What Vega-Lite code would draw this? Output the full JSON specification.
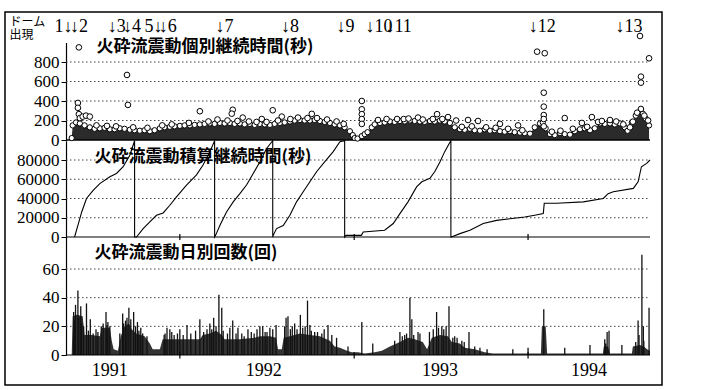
{
"$schema": "https://vega.github.io/schema/vega-lite/v6.json",
"width": 657, "height": 373,
"autosize": {"type": "none"},
"padding": {"left": 5, "top": 12, "right": 48, "bottom": 5},
"background": "white",
"config": {"view": {"stroke": "#000", "strokeWidth": 1.5}, "font": "Liberation Serif"},
"resolve": {"scale": {"y": "independent"}, "axis": {"y": "independent"}},
"datasets": {
"env": [{"date":"1991-05-19","v":20},{"date":"1991-05-21","v":150},{"date":"1991-05-28","v":180},{"date":"1991-06-05","v":170},{"date":"1991-06-15","v":150},{"date":"1991-06-26","v":130},{"date":"1991-07-06","v":115},{"date":"1991-07-17","v":120},{"date":"1991-07-27","v":125},{"date":"1991-08-07","v":110},{"date":"1991-08-17","v":110},{"date":"1991-08-28","v":120},{"date":"1991-09-07","v":115},{"date":"1991-09-18","v":105},{"date":"1991-09-28","v":100},{"date":"1991-10-09","v":95},{"date":"1991-10-19","v":100},{"date":"1991-10-30","v":90},{"date":"1991-11-09","v":100},{"date":"1991-11-20","v":120},{"date":"1991-11-30","v":130},{"date":"1991-12-11","v":135},{"date":"1991-12-21","v":140},{"date":"1992-01-01","v":145},{"date":"1992-01-11","v":150},{"date":"1992-01-22","v":150},{"date":"1992-02-01","v":155},{"date":"1992-02-12","v":160},{"date":"1992-02-22","v":165},{"date":"1992-03-04","v":170},{"date":"1992-03-14","v":165},{"date":"1992-03-25","v":175},{"date":"1992-04-04","v":170},{"date":"1992-04-15","v":175},{"date":"1992-04-25","v":165},{"date":"1992-05-06","v":170},{"date":"1992-05-16","v":160},{"date":"1992-05-27","v":165},{"date":"1992-06-06","v":155},{"date":"1992-06-17","v":165},{"date":"1992-06-27","v":160},{"date":"1992-07-08","v":155},{"date":"1992-07-18","v":165},{"date":"1992-07-29","v":175},{"date":"1992-08-08","v":180},{"date":"1992-08-19","v":190},{"date":"1992-08-29","v":200},{"date":"1992-09-09","v":205},{"date":"1992-09-19","v":200},{"date":"1992-09-30","v":200},{"date":"1992-10-10","v":205},{"date":"1992-10-21","v":195},{"date":"1992-10-31","v":185},{"date":"1992-11-11","v":175},{"date":"1992-11-21","v":160},{"date":"1992-12-02","v":150},{"date":"1992-12-12","v":130},{"date":"1992-12-23","v":90},{"date":"1992-12-29","v":50},{"date":"1993-01-02","v":20},{"date":"1993-01-08","v":15},{"date":"1993-01-17","v":40},{"date":"1993-01-23","v":60},{"date":"1993-01-29","v":80},{"date":"1993-02-07","v":130},{"date":"1993-02-13","v":160},{"date":"1993-02-24","v":175},{"date":"1993-03-06","v":180},{"date":"1993-03-17","v":190},{"date":"1993-03-27","v":185},{"date":"1993-04-07","v":195},{"date":"1993-04-17","v":190},{"date":"1993-04-28","v":200},{"date":"1993-05-08","v":195},{"date":"1993-05-19","v":190},{"date":"1993-05-29","v":185},{"date":"1993-06-09","v":195},{"date":"1993-06-19","v":190},{"date":"1993-06-30","v":200},{"date":"1993-07-10","v":190},{"date":"1993-07-21","v":175},{"date":"1993-07-31","v":130},{"date":"1993-08-11","v":110},{"date":"1993-08-21","v":105},{"date":"1993-09-01","v":115},{"date":"1993-09-11","v":100},{"date":"1993-09-22","v":95},{"date":"1993-10-02","v":110},{"date":"1993-10-13","v":95},{"date":"1993-10-23","v":100},{"date":"1993-11-03","v":90},{"date":"1993-11-13","v":85},{"date":"1993-11-24","v":90},{"date":"1993-12-04","v":80},{"date":"1993-12-15","v":75},{"date":"1993-12-25","v":70},{"date":"1994-01-05","v":65},{"date":"1994-01-15","v":130},{"date":"1994-01-26","v":170},{"date":"1994-02-01","v":180},{"date":"1994-02-07","v":120},{"date":"1994-02-16","v":60},{"date":"1994-02-26","v":50},{"date":"1994-03-09","v":70},{"date":"1994-03-19","v":60},{"date":"1994-03-30","v":55},{"date":"1994-04-09","v":90},{"date":"1994-04-20","v":110},{"date":"1994-04-30","v":120},{"date":"1994-05-11","v":100},{"date":"1994-05-21","v":120},{"date":"1994-06-01","v":170},{"date":"1994-06-11","v":165},{"date":"1994-06-22","v":170},{"date":"1994-07-02","v":160},{"date":"1994-07-13","v":170},{"date":"1994-07-23","v":130},{"date":"1994-07-29","v":95},{"date":"1994-08-07","v":180},{"date":"1994-08-15","v":250},{"date":"1994-08-24","v":290},{"date":"1994-08-30","v":270},{"date":"1994-09-05","v":220},{"date":"1994-09-12","v":150}],
"out": [{"date":"1991-06-01","v":380},{"date":"1991-06-01","v":330},{"date":"1991-06-03","v":265},{"date":"1991-06-05","v":225},{"date":"1991-06-11","v":240},{"date":"1991-06-18","v":250},{"date":"1991-06-26","v":240},{"date":"1991-06-03","v":950},{"date":"1991-09-12","v":667},{"date":"1991-09-14","v":360},{"date":"1992-02-12","v":295},{"date":"1992-04-21","v":310},{"date":"1992-04-19","v":270},{"date":"1992-05-12","v":230},{"date":"1992-06-21","v":215},{"date":"1992-07-14","v":305},{"date":"1992-08-02","v":240},{"date":"1992-10-04","v":268},{"date":"1993-01-17","v":400},{"date":"1993-01-17","v":315},{"date":"1993-01-17","v":265},{"date":"1993-01-17","v":215},{"date":"1993-01-17","v":165},{"date":"1993-04-15","v":215},{"date":"1993-05-15","v":230},{"date":"1993-06-24","v":265},{"date":"1993-07-17","v":235},{"date":"1993-08-03","v":200},{"date":"1993-08-28","v":205},{"date":"1993-09-18","v":195},{"date":"1993-11-03","v":165},{"date":"1993-12-11","v":150},{"date":"1994-01-20","v":906},{"date":"1994-02-05","v":890},{"date":"1994-02-03","v":485},{"date":"1994-02-03","v":342},{"date":"1994-02-03","v":256},{"date":"1994-02-03","v":215},{"date":"1994-02-03","v":140},{"date":"1994-03-19","v":225},{"date":"1994-04-24","v":175},{"date":"1994-05-15","v":235},{"date":"1994-05-28","v":185},{"date":"1994-06-22","v":205},{"date":"1994-08-03","v":130},{"date":"1994-08-09","v":188},{"date":"1994-08-24","v":1067},{"date":"1994-09-12","v":838},{"date":"1994-08-26","v":650},{"date":"1994-08-26","v":588},{"date":"1994-08-26","v":318},{"date":"1994-09-10","v":200},{"date":"1991-07-10","v":150},{"date":"1991-08-01","v":145},{"date":"1991-08-20","v":140},{"date":"1991-09-25","v":130},{"date":"1991-10-25","v":125},{"date":"1991-11-25","v":150},{"date":"1991-12-15","v":160},{"date":"1992-01-20","v":175},{"date":"1992-03-01","v":190},{"date":"1992-03-20","v":210},{"date":"1992-04-10","v":200},{"date":"1992-05-01","v":195},{"date":"1992-05-25","v":190},{"date":"1992-06-10","v":185},{"date":"1992-07-01","v":185},{"date":"1992-07-25","v":200},{"date":"1992-08-20","v":215},{"date":"1992-09-05","v":230},{"date":"1992-09-25","v":225},{"date":"1992-10-15","v":225},{"date":"1992-11-05","v":210},{"date":"1992-11-25","v":190},{"date":"1992-12-10","v":165},{"date":"1993-02-20","v":205},{"date":"1993-03-10","v":215},{"date":"1993-04-01","v":215},{"date":"1993-04-25","v":220},{"date":"1993-05-25","v":210},{"date":"1993-06-15","v":215},{"date":"1993-07-05","v":215},{"date":"1993-08-15","v":135},{"date":"1993-09-05","v":140},{"date":"1993-10-05","v":130},{"date":"1993-10-25","v":125},{"date":"1993-11-20","v":115},{"date":"1993-12-20","v":100},{"date":"1994-02-20","v":85},{"date":"1994-03-10","v":95},{"date":"1994-04-05","v":115},{"date":"1994-05-05","v":135},{"date":"1994-06-05","v":195},{"date":"1994-07-05","v":190},{"date":"1994-07-20","v":160},{"date":"1994-08-18","v":280},{"date":"1994-09-02","v":250}],
"cum": [{"i":1,"date":"1991-05-25","v":0},{"i":2,"date":"1991-06-01","v":12000},{"i":3,"date":"1991-06-09","v":26000},{"i":4,"date":"1991-06-19","v":40000},{"i":5,"date":"1991-07-03","v":48500},{"i":6,"date":"1991-07-17","v":55500},{"i":7,"date":"1991-08-07","v":62500},{"i":8,"date":"1991-08-21","v":66000},{"i":9,"date":"1991-09-04","v":73000},{"i":10,"date":"1991-09-18","v":85000},{"i":11,"date":"1991-09-28","v":100000},{"i":12,"date":"1991-09-28","v":0},{"i":13,"date":"1991-10-02","v":0},{"i":14,"date":"1991-10-16","v":8700},{"i":15,"date":"1991-10-30","v":15600},{"i":16,"date":"1991-11-13","v":22600},{"i":17,"date":"1991-11-27","v":25000},{"i":18,"date":"1991-12-11","v":33000},{"i":19,"date":"1991-12-25","v":41700},{"i":20,"date":"1992-01-15","v":54000},{"i":21,"date":"1992-02-05","v":64500},{"i":22,"date":"1992-02-19","v":75000},{"i":23,"date":"1992-03-04","v":88700},{"i":24,"date":"1992-03-14","v":100000},{"i":25,"date":"1992-03-14","v":0},{"i":26,"date":"1992-03-16","v":1700},{"i":27,"date":"1992-03-25","v":12000},{"i":28,"date":"1992-04-08","v":26000},{"i":29,"date":"1992-04-22","v":36500},{"i":30,"date":"1992-05-06","v":45000},{"i":31,"date":"1992-05-20","v":54000},{"i":32,"date":"1992-06-03","v":66000},{"i":33,"date":"1992-06-17","v":78000},{"i":34,"date":"1992-07-01","v":92000},{"i":35,"date":"1992-07-14","v":100000},{"i":36,"date":"1992-07-14","v":0},{"i":37,"date":"1992-07-15","v":1700},{"i":38,"date":"1992-07-22","v":8700},{"i":39,"date":"1992-08-05","v":12000},{"i":40,"date":"1992-08-19","v":22600},{"i":41,"date":"1992-09-02","v":36500},{"i":42,"date":"1992-09-16","v":47000},{"i":43,"date":"1992-09-30","v":57400},{"i":44,"date":"1992-10-14","v":67800},{"i":45,"date":"1992-10-31","v":78000},{"i":46,"date":"1992-11-18","v":88700},{"i":47,"date":"1992-12-02","v":99000},{"i":48,"date":"1992-12-12","v":100000},{"i":49,"date":"1992-12-12","v":0},{"i":50,"date":"1992-12-15","v":1700},{"i":51,"date":"1993-01-16","v":1700},{"i":52,"date":"1993-01-20","v":5200},{"i":53,"date":"1993-03-06","v":7000},{"i":54,"date":"1993-03-24","v":14000},{"i":55,"date":"1993-04-07","v":24300},{"i":56,"date":"1993-04-24","v":36500},{"i":57,"date":"1993-05-12","v":52000},{"i":58,"date":"1993-05-23","v":57400},{"i":59,"date":"1993-06-09","v":61000},{"i":60,"date":"1993-06-19","v":67800},{"i":61,"date":"1993-06-30","v":78000},{"i":62,"date":"1993-07-10","v":88700},{"i":63,"date":"1993-07-21","v":98500},{"i":64,"date":"1993-07-23","v":100000},{"i":65,"date":"1993-07-23","v":0},{"i":66,"date":"1993-07-24","v":0},{"i":67,"date":"1993-08-11","v":3500},{"i":68,"date":"1993-09-01","v":7000},{"i":69,"date":"1993-09-29","v":14000},{"i":70,"date":"1993-10-27","v":17300},{"i":71,"date":"1993-11-24","v":19000},{"i":72,"date":"1993-12-25","v":20700},{"i":73,"date":"1994-01-15","v":22600},{"i":74,"date":"1994-02-02","v":24300},{"i":75,"date":"1994-02-04","v":35000},{"i":76,"date":"1994-03-02","v":35000},{"i":77,"date":"1994-04-27","v":36500},{"i":78,"date":"1994-06-08","v":40000},{"i":79,"date":"1994-06-18","v":45000},{"i":80,"date":"1994-06-29","v":47000},{"i":81,"date":"1994-08-10","v":50500},{"i":82,"date":"1994-08-20","v":57400},{"i":83,"date":"1994-08-27","v":73000},{"i":84,"date":"1994-09-07","v":76500},{"i":85,"date":"1994-09-14","v":80000}],
"base": [{"date":"1991-05-19","v":0},{"date":"1991-05-21","v":27},{"date":"1991-05-30","v":28},{"date":"1991-06-11","v":27},{"date":"1991-06-15","v":14},{"date":"1991-06-30","v":14},{"date":"1991-07-17","v":13},{"date":"1991-07-21","v":19},{"date":"1991-08-07","v":19},{"date":"1991-08-11","v":10},{"date":"1991-08-15","v":4},{"date":"1991-08-24","v":3},{"date":"1991-08-30","v":13},{"date":"1991-09-07","v":20},{"date":"1991-09-16","v":22},{"date":"1991-09-22","v":18},{"date":"1991-10-01","v":15},{"date":"1991-10-19","v":13},{"date":"1991-10-30","v":8},{"date":"1991-11-05","v":4},{"date":"1991-11-20","v":4},{"date":"1991-11-26","v":11},{"date":"1992-01-01","v":11},{"date":"1992-01-22","v":11},{"date":"1992-02-12","v":11},{"date":"1992-02-18","v":14},{"date":"1992-03-04","v":15},{"date":"1992-03-17","v":17},{"date":"1992-03-29","v":14},{"date":"1992-04-04","v":11},{"date":"1992-05-06","v":11},{"date":"1992-06-06","v":12},{"date":"1992-06-17","v":13},{"date":"1992-07-08","v":13},{"date":"1992-07-21","v":12},{"date":"1992-07-25","v":4},{"date":"1992-08-02","v":4},{"date":"1992-08-06","v":12},{"date":"1992-08-19","v":13},{"date":"1992-09-09","v":15},{"date":"1992-09-30","v":14},{"date":"1992-10-21","v":13},{"date":"1992-11-11","v":10},{"date":"1992-11-21","v":6},{"date":"1992-12-02","v":5},{"date":"1992-12-17","v":3},{"date":"1992-12-27","v":2},{"date":"1993-01-09","v":2},{"date":"1993-01-23","v":1},{"date":"1993-02-13","v":2},{"date":"1993-02-28","v":3},{"date":"1993-03-17","v":6},{"date":"1993-04-07","v":9},{"date":"1993-04-24","v":12},{"date":"1993-05-08","v":11},{"date":"1993-05-25","v":9},{"date":"1993-06-03","v":4},{"date":"1993-06-13","v":12},{"date":"1993-06-30","v":14},{"date":"1993-07-17","v":13},{"date":"1993-07-25","v":9},{"date":"1993-08-11","v":8},{"date":"1993-08-21","v":5},{"date":"1993-09-11","v":4},{"date":"1993-10-02","v":2},{"date":"1993-10-19","v":1},{"date":"1994-01-28","v":1},{"date":"1994-01-30","v":20},{"date":"1994-02-07","v":20},{"date":"1994-02-10","v":1},{"date":"1994-06-07","v":1},{"date":"1994-06-09","v":6},{"date":"1994-06-18","v":6},{"date":"1994-06-22","v":1},{"date":"1994-08-07","v":1},{"date":"1994-08-09","v":6},{"date":"1994-08-24","v":7},{"date":"1994-09-01","v":6},{"date":"1994-09-08","v":4},{"date":"1994-09-14","v":3}],
"spk": [{"date":"1991-05-27","v":35},{"date":"1991-06-01","v":45},{"date":"1991-06-07","v":34},{"date":"1991-06-19","v":36},{"date":"1991-06-27","v":25},{"date":"1991-07-09","v":18},{"date":"1991-07-30","v":30},{"date":"1991-08-03","v":23},{"date":"1991-08-07","v":20},{"date":"1991-09-03","v":29},{"date":"1991-09-12","v":26},{"date":"1991-09-16","v":33},{"date":"1991-09-26","v":30},{"date":"1991-10-04","v":23},{"date":"1991-10-11","v":19},{"date":"1991-12-05","v":19},{"date":"1991-12-11","v":18},{"date":"1992-01-01","v":18},{"date":"1992-01-16","v":21},{"date":"1992-02-12","v":25},{"date":"1992-03-04","v":22},{"date":"1992-03-12","v":26},{"date":"1992-03-23","v":42},{"date":"1992-03-29","v":33},{"date":"1992-04-15","v":19},{"date":"1992-04-21","v":24},{"date":"1992-05-02","v":19},{"date":"1992-05-23","v":18},{"date":"1992-06-11","v":18},{"date":"1992-06-17","v":20},{"date":"1992-06-23","v":20},{"date":"1992-07-08","v":19},{"date":"1992-07-21","v":21},{"date":"1992-08-11","v":26},{"date":"1992-08-15","v":27},{"date":"1992-08-29","v":22},{"date":"1992-09-10","v":28},{"date":"1992-09-25","v":38},{"date":"1992-09-30","v":21},{"date":"1992-10-10","v":16},{"date":"1992-11-07","v":21},{"date":"1992-12-19","v":6},{"date":"1993-01-17","v":23},{"date":"1993-02-09","v":8},{"date":"1993-03-27","v":10},{"date":"1993-04-07","v":16},{"date":"1993-04-17","v":14},{"date":"1993-04-28","v":40},{"date":"1993-05-02","v":25},{"date":"1993-05-15","v":16},{"date":"1993-06-23","v":30},{"date":"1993-07-04","v":20},{"date":"1993-07-19","v":34},{"date":"1993-07-31","v":13},{"date":"1993-08-05","v":12},{"date":"1993-08-30","v":16},{"date":"1993-09-11","v":6},{"date":"1993-09-22","v":5},{"date":"1993-10-07","v":4},{"date":"1993-11-30","v":4},{"date":"1994-01-01","v":5},{"date":"1994-02-03","v":32},{"date":"1994-03-19","v":5},{"date":"1994-05-11","v":7},{"date":"1994-06-11","v":11},{"date":"1994-06-16","v":16},{"date":"1994-06-20","v":17},{"date":"1994-07-17","v":7},{"date":"1994-08-20","v":24},{"date":"1994-08-28","v":70},{"date":"1994-09-01","v":10},{"date":"1994-09-12","v":33},{"date":"1991-05-23","v":30},{"date":"1991-05-25","v":24},{"date":"1991-06-03","v":26},{"date":"1991-06-09","v":22},{"date":"1991-06-13","v":20},{"date":"1991-06-23","v":17},{"date":"1991-07-03","v":15},{"date":"1991-07-13","v":16},{"date":"1991-07-20","v":20},{"date":"1991-07-24","v":22},{"date":"1991-08-01","v":21},{"date":"1991-08-28","v":15},{"date":"1991-09-05","v":22},{"date":"1991-09-09","v":24},{"date":"1991-09-20","v":25},{"date":"1991-09-30","v":20},{"date":"1991-10-07","v":17},{"date":"1991-10-15","v":15},{"date":"1991-10-24","v":13},{"date":"1991-11-29","v":14},{"date":"1991-12-01","v":15},{"date":"1991-12-15","v":16},{"date":"1991-12-20","v":14},{"date":"1991-12-27","v":15},{"date":"1992-01-08","v":14},{"date":"1992-01-24","v":15},{"date":"1992-02-03","v":17},{"date":"1992-02-20","v":16},{"date":"1992-02-27","v":18},{"date":"1992-03-08","v":18},{"date":"1992-03-17","v":20},{"date":"1992-04-01","v":17},{"date":"1992-04-10","v":15},{"date":"1992-04-28","v":15},{"date":"1992-05-10","v":15},{"date":"1992-05-15","v":13},{"date":"1992-05-30","v":16},{"date":"1992-06-05","v":15},{"date":"1992-06-28","v":16},{"date":"1992-07-02","v":16},{"date":"1992-07-14","v":18},{"date":"1992-08-08","v":20},{"date":"1992-08-20","v":18},{"date":"1992-08-24","v":20},{"date":"1992-09-03","v":18},{"date":"1992-09-15","v":19},{"date":"1992-09-20","v":20},{"date":"1992-10-03","v":17},{"date":"1992-10-16","v":16},{"date":"1992-10-25","v":15},{"date":"1992-10-30","v":18},{"date":"1992-11-15","v":14},{"date":"1992-11-25","v":12},{"date":"1993-04-12","v":13},{"date":"1993-04-21","v":15},{"date":"1993-05-06","v":14},{"date":"1993-05-19","v":15},{"date":"1993-06-08","v":16},{"date":"1993-06-16","v":18},{"date":"1993-06-27","v":19},{"date":"1993-07-08","v":18},{"date":"1993-07-13","v":20},{"date":"1993-07-27","v":12},{"date":"1993-08-15","v":10},{"date":"1993-08-20","v":9},{"date":"1994-06-13","v":8},{"date":"1994-08-15","v":9},{"date":"1994-08-22","v":14},{"date":"1994-08-31","v":20}],
"dome": [{"n":"1","date":"1991-05-12"},{"n":"2","date":"1991-05-24"},{"n":"3","date":"1991-08-11"},{"n":"4","date":"1991-09-12"},{"n":"5","date":"1991-11-17"},{"n":"6","date":"1991-11-26"},{"n":"7","date":"1992-03-24"},{"n":"8","date":"1992-08-09"},{"n":"9","date":"1992-12-03"},{"n":"10","date":"1993-02-02"},{"n":"11","date":"1993-03-16"},{"n":"12","date":"1994-01-11"},{"n":"13","date":"1994-07-12"}],
"years": [{"date":"1992-01-01"},{"date":"1993-01-01"},{"date":"1994-01-01"}],
"ylab": [{"label":"1991","date":"1991-08-07"},{"label":"1992","date":"1992-06-25"},{"label":"1993","date":"1993-06-30"},{"label":"1994","date":"1994-05-09"}]
},
"layer": [
{"data":{"values":[{"g":200},{"g":400},{"g":600},{"g":800}]},
 "mark":{"type":"rule","strokeDash":[1.5,2.5],"color":"#444","strokeWidth":1},
 "encoding":{
  "x":{"datum":{"year":1991,"month":5,"date":7,"utc":true},"type":"temporal","scale":{"domain":[{"year":1991,"month":5,"date":7,"utc":true},{"year":1994,"month":9,"date":14,"utc":true}],"range":[61,645]},"axis":null},
  "x2":{"datum":{"year":1994,"month":9,"date":14,"utc":true}},
  "y":{"field":"g","type":"quantitative","scale":{"domain":[0,1000],"range":[128,30.5],"nice":false,"zero":false},
   "axis":{"orient":"left","offset":-61,"values":[0,200,400,600,800],"format":"d","grid":false,"tickSize":5,"tickColor":"#000","domainColor":"#000","domainWidth":1.2,"labelFont":"Liberation Serif","labelFontSize":17,"labelColor":"#000","labelPadding":2,"title":["ドーム","出現"],"titleAngle":0,"titleAlign":"left","titleBaseline":"top","titleX":-57,"titleY":4,"titleFont":"Noto Sans CJK JP","titleFontSize":12,"titleFontWeight":"normal","titleColor":"#000","titleLineHeight":13}}}},
{"data":{"name":"env"},"mark":{"type":"area","color":"#2b2b2b"},
 "encoding":{"x":{"field":"date","type":"temporal","scale":{"domain":[{"year":1991,"month":5,"date":7,"utc":true},{"year":1994,"month":9,"date":14,"utc":true}],"range":[61,645]},"axis":null},
  "y":{"field":"v","type":"quantitative","scale":{"domain":[0,1000],"range":[128,30.5],"nice":false,"zero":false},"axis":null}}},
{"data":{"values":[{}]},"mark":{"type":"rule","color":"#000","strokeWidth":1.5},
 "encoding":{"x":{"datum":{"year":1991,"month":5,"date":7,"utc":true},"type":"temporal","scale":{"domain":[{"year":1991,"month":5,"date":7,"utc":true},{"year":1994,"month":9,"date":14,"utc":true}],"range":[61,645]},"axis":null},
  "x2":{"datum":{"year":1994,"month":9,"date":14,"utc":true}},
  "y":{"datum":0,"type":"quantitative","scale":{"domain":[0,1000],"range":[128,30.5],"nice":false,"zero":false},"axis":null}}},
{"data":{"name":"env"},"mark":{"type":"circle","fill":"#fff","fillOpacity":1,"stroke":"#000","strokeWidth":1,"size":28},
 "encoding":{"x":{"field":"date","type":"temporal","scale":{"domain":[{"year":1991,"month":5,"date":7,"utc":true},{"year":1994,"month":9,"date":14,"utc":true}],"range":[61,645]},"axis":null},
  "y":{"field":"v","type":"quantitative","scale":{"domain":[0,1000],"range":[128,30.5],"nice":false,"zero":false},"axis":null}}},
{"data":{"name":"out"},"mark":{"type":"circle","fill":"#fff","fillOpacity":1,"stroke":"#000","strokeWidth":1,"size":32},
 "encoding":{"x":{"field":"date","type":"temporal","scale":{"domain":[{"year":1991,"month":5,"date":7,"utc":true},{"year":1994,"month":9,"date":14,"utc":true}],"range":[61,645]},"axis":null},
  "y":{"field":"v","type":"quantitative","scale":{"domain":[0,1000],"range":[128,30.5],"nice":false,"zero":false},"axis":null}}},
{"data":{"name":"dome"},"transform":[{"filter":"datum.n != '1' && datum.n != '5'"},{"calculate":"'↓' + datum.n","as":"label"}],
 "mark":{"type":"text","font":"Liberation Serif","fontSize":18,"align":"left","dx":-4,"baseline":"middle","color":"#000"},
 "encoding":{"x":{"field":"date","type":"temporal","scale":{"domain":[{"year":1991,"month":5,"date":7,"utc":true},{"year":1994,"month":9,"date":14,"utc":true}],"range":[61,645]},"axis":null},
  "y":{"datum":1160,"type":"quantitative","scale":{"domain":[0,1000],"range":[128,30.5],"nice":false,"zero":false},"axis":null},
  "text":{"field":"label"}}},
{"data":{"name":"dome"},"transform":[{"filter":"datum.n == '1' || datum.n == '5'"},{"calculate":"datum.n + '↓'","as":"label"}],
 "mark":{"type":"text","font":"Liberation Serif","fontSize":18,"align":"right","dx":4,"baseline":"middle","color":"#000"},
 "encoding":{"x":{"field":"date","type":"temporal","scale":{"domain":[{"year":1991,"month":5,"date":7,"utc":true},{"year":1994,"month":9,"date":14,"utc":true}],"range":[61,645]},"axis":null},
  "y":{"datum":1160,"type":"quantitative","scale":{"domain":[0,1000],"range":[128,30.5],"nice":false,"zero":false},"axis":null},
  "text":{"field":"label"}}},
{"data":{"values":[{}]},"mark":{"type":"text","text":"火砕流震動個別継続時間(秒)","font":"Noto Sans CJK JP","fontSize":17,"fontWeight":"bold","align":"left","baseline":"middle","color":"#000"},
 "encoding":{"x":{"datum":{"year":1991,"month":7,"date":10,"utc":true},"type":"temporal","scale":{"domain":[{"year":1991,"month":5,"date":7,"utc":true},{"year":1994,"month":9,"date":14,"utc":true}],"range":[61,645]},"axis":null},
  "y":{"datum":955,"type":"quantitative","scale":{"domain":[0,1000],"range":[128,30.5],"nice":false,"zero":false},"axis":null}}},
{"data":{"values":[{"g":20000},{"g":40000},{"g":60000},{"g":80000}]},
 "mark":{"type":"rule","strokeDash":[1.5,2.5],"color":"#444","strokeWidth":1},
 "encoding":{
  "x":{"datum":{"year":1991,"month":5,"date":7,"utc":true},"type":"temporal","scale":{"domain":[{"year":1991,"month":5,"date":7,"utc":true},{"year":1994,"month":9,"date":14,"utc":true}],"range":[61,645]},"axis":null},
  "x2":{"datum":{"year":1994,"month":9,"date":14,"utc":true}},
  "y":{"field":"g","type":"quantitative","scale":{"domain":[0,100000],"range":[225,128.75],"nice":false,"zero":false},
   "axis":{"orient":"left","offset":-61,"values":[0,20000,40000,60000,80000],"format":"d","grid":false,"tickSize":5,"tickColor":"#000","domainColor":"#000","domainWidth":1.2,"labelFont":"Liberation Serif","labelFontSize":17,"labelColor":"#000","labelPadding":2,"title":null}}}},
{"data":{"values":[{}]},"mark":{"type":"rule","color":"#000","strokeWidth":1.2},
 "encoding":{"x":{"datum":{"year":1991,"month":5,"date":7,"utc":true},"type":"temporal","scale":{"domain":[{"year":1991,"month":5,"date":7,"utc":true},{"year":1994,"month":9,"date":14,"utc":true}],"range":[61,645]},"axis":null},
  "x2":{"datum":{"year":1994,"month":9,"date":14,"utc":true}},
  "y":{"datum":0,"type":"quantitative","scale":{"domain":[0,100000],"range":[225,128.75],"nice":false,"zero":false},"axis":null}}},
{"data":{"name":"cum"},"mark":{"type":"line","color":"#000","strokeWidth":1.1},
 "encoding":{"x":{"field":"date","type":"temporal","scale":{"domain":[{"year":1991,"month":5,"date":7,"utc":true},{"year":1994,"month":9,"date":14,"utc":true}],"range":[61,645]},"axis":null},
  "y":{"field":"v","type":"quantitative","scale":{"domain":[0,100000],"range":[225,128.75],"nice":false,"zero":false},"axis":null},
  "order":{"field":"i","type":"quantitative"}}},
{"data":{"values":[{}]},"mark":{"type":"text","text":"火砕流震動積算継続時間(秒)","font":"Noto Sans CJK JP","fontSize":17,"fontWeight":"bold","align":"left","baseline":"middle","color":"#000"},
 "encoding":{"x":{"datum":{"year":1991,"month":7,"date":6,"utc":true},"type":"temporal","scale":{"domain":[{"year":1991,"month":5,"date":7,"utc":true},{"year":1994,"month":9,"date":14,"utc":true}],"range":[61,645]},"axis":null},
  "y":{"datum":83000,"type":"quantitative","scale":{"domain":[0,100000],"range":[225,128.75],"nice":false,"zero":false},"axis":null}}},
{"data":{"values":[{"g":20},{"g":40},{"g":60}]},
 "mark":{"type":"rule","strokeDash":[1.5,2.5],"color":"#444","strokeWidth":1},
 "encoding":{
  "x":{"datum":{"year":1991,"month":5,"date":7,"utc":true},"type":"temporal","scale":{"domain":[{"year":1991,"month":5,"date":7,"utc":true},{"year":1994,"month":9,"date":14,"utc":true}],"range":[61,645]},"axis":null},
  "x2":{"datum":{"year":1994,"month":9,"date":14,"utc":true}},
  "y":{"field":"g","type":"quantitative","scale":{"domain":[0,82.33],"range":[343,225],"nice":false,"zero":false},
   "axis":{"orient":"left","offset":-61,"values":[0,20,40,60],"format":"d","grid":false,"tickSize":5,"tickColor":"#000","domainColor":"#000","domainWidth":1.2,"labelFont":"Liberation Serif","labelFontSize":17,"labelColor":"#000","labelPadding":2,"title":null}}}},
{"data":{"name":"base"},"mark":{"type":"area","color":"#333"},
 "encoding":{"x":{"field":"date","type":"temporal","scale":{"domain":[{"year":1991,"month":5,"date":7,"utc":true},{"year":1994,"month":9,"date":14,"utc":true}],"range":[61,645]},"axis":null},
  "y":{"field":"v","type":"quantitative","scale":{"domain":[0,82.33],"range":[343,225],"nice":false,"zero":false},"axis":null}}},
{"data":{"name":"spk"},"mark":{"type":"rule","color":"#111","strokeWidth":1.3},
 "encoding":{"x":{"field":"date","type":"temporal","scale":{"domain":[{"year":1991,"month":5,"date":7,"utc":true},{"year":1994,"month":9,"date":14,"utc":true}],"range":[61,645]},"axis":null},
  "y":{"field":"v","type":"quantitative","scale":{"domain":[0,82.33],"range":[343,225],"nice":false,"zero":false},"axis":null},
  "y2":{"datum":0}}},
{"data":{"values":[{}]},"mark":{"type":"rule","color":"#000","strokeWidth":1.2},
 "encoding":{"x":{"datum":{"year":1991,"month":5,"date":7,"utc":true},"type":"temporal","scale":{"domain":[{"year":1991,"month":5,"date":7,"utc":true},{"year":1994,"month":9,"date":14,"utc":true}],"range":[61,645]},"axis":null},
  "x2":{"datum":{"year":1994,"month":9,"date":14,"utc":true}},
  "y":{"datum":0,"type":"quantitative","scale":{"domain":[0,82.33],"range":[343,225],"nice":false,"zero":false},"axis":null}}},
{"data":{"name":"years"},"mark":{"type":"rule","color":"#000","strokeWidth":1.2},
 "encoding":{"x":{"field":"date","type":"temporal","scale":{"domain":[{"year":1991,"month":5,"date":7,"utc":true},{"year":1994,"month":9,"date":14,"utc":true}],"range":[61,645]},"axis":null},
  "y":{"datum":-2.5,"type":"quantitative","scale":{"domain":[0,82.33],"range":[343,225],"nice":false,"zero":false},"axis":null},
  "y2":{"datum":2}}},
{"data":{"name":"years"},"mark":{"type":"rule","color":"#000","strokeWidth":1.2},
 "encoding":{"x":{"field":"date","type":"temporal","scale":{"domain":[{"year":1991,"month":5,"date":7,"utc":true},{"year":1994,"month":9,"date":14,"utc":true}],"range":[61,645]},"axis":null},
  "y":{"datum":-3000,"type":"quantitative","scale":{"domain":[0,100000],"range":[225,128.75],"nice":false,"zero":false},"axis":null},
  "y2":{"datum":3000}}},
{"data":{"name":"ylab"},"mark":{"type":"text","font":"Liberation Serif","fontSize":18,"align":"center","baseline":"middle","color":"#000"},
 "encoding":{"x":{"field":"date","type":"temporal","scale":{"domain":[{"year":1991,"month":5,"date":7,"utc":true},{"year":1994,"month":9,"date":14,"utc":true}],"range":[61,645]},"axis":null},
  "y":{"datum":-11,"type":"quantitative","scale":{"domain":[0,82.33],"range":[343,225],"nice":false,"zero":false},"axis":null},
  "text":{"field":"label"}}},
{"data":{"values":[{}]},"mark":{"type":"text","text":"火砕流震動日別回数(回)","font":"Noto Sans CJK JP","fontSize":17,"fontWeight":"bold","align":"left","baseline":"middle","color":"#000"},
 "encoding":{"x":{"datum":{"year":1991,"month":7,"date":6,"utc":true},"type":"temporal","scale":{"domain":[{"year":1991,"month":5,"date":7,"utc":true},{"year":1994,"month":9,"date":14,"utc":true}],"range":[61,645]},"axis":null},
  "y":{"datum":71,"type":"quantitative","scale":{"domain":[0,82.33],"range":[343,225],"nice":false,"zero":false},"axis":null}}}
]
}
